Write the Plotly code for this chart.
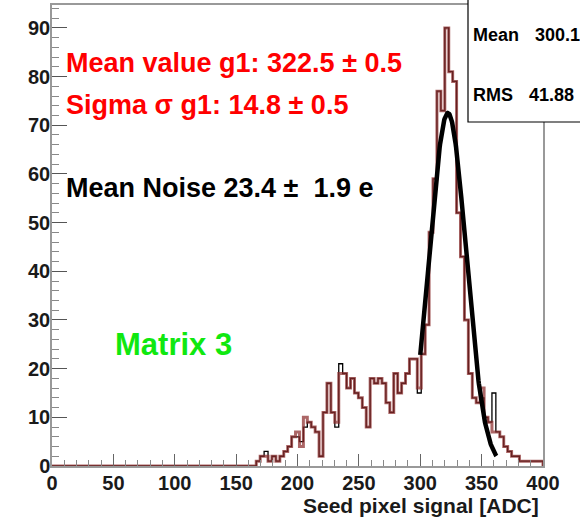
import plotly.graph_objects as go
import math

# ---------------- data ----------------
bin_width = 3.2            # ADC per bin (125 bins on 0-400)
n_bins = 125
first_bin = 52             # index of first listed bin (166.4 ADC)

counts_red = [1, 2, 2, 1, 2, 1, 2, 3, 4, 6,
              7, 4, 10, 9, 8, 7, 2, 11, 17, 11,
              9, 19, 19, 16, 18, 15, 14, 12, 8, 18,
              17, 18, 17, 13, 11, 19, 15, 17, 19, 22,
              22, 16, 23, 29, 48, 59, 77, 73, 90, 81,
              79, 52, 43, 30, 19, 14, 13, 16, 10, 9,
              7, 7, 6, 4, 3, 2, 2, 1, 1, 1, 1, 1, 1]
counts_black = [1, 2, 3, 1, 2, 1, 2, 3, 4, 6,
                6, 5, 8, 9, 8, 7, 2, 11, 17, 11,
                8, 21, 19, 16, 18, 15, 14, 12, 8, 18,
                17, 18, 17, 13, 11, 19, 15, 17, 19, 22,
                22, 15, 23, 29, 48, 59, 77, 73, 90, 81,
                79, 52, 43, 30, 19, 14, 13, 14, 10, 9,
                15, 7, 6, 4, 3, 2, 2, 1, 1, 1, 1, 1, 1]

fit_amp = 72.5
fit_mean = 322.5
fit_sigma = 14.8
fit_range = (300, 362)

x_ticks = [0, 50, 100, 150, 200, 250, 300, 350, 400]
y_ticks = [0, 10, 20, 30, 40, 50, 60, 70, 80, 90]

stat_names = ["Mean", "RMS"]
stat_values = ["300.1", "41.88"]

# ---------------- build ----------------
def full_counts(c):
    arr = [0] * n_bins
    for k, v in enumerate(c):
        arr[first_bin + k] = v
    return arr

edges = [round(i * bin_width, 4) for i in range(n_bins + 1)]

def step_xy(c):
    arr = full_counts(c)
    xs = edges[:-1] + [edges[-1], edges[-1]]
    ys = arr + [arr[-1], 0]
    return xs, ys

fig = go.Figure()
xb, yb = step_xy(counts_black)
fig.add_trace(go.Scatter(x=xb, y=yb, mode="lines", line=dict(shape="hv", color="black", width=1.3),
                         hoverinfo="skip", showlegend=False, cliponaxis=False))
xr, yr = step_xy(counts_red)
fig.add_trace(go.Scatter(x=xr, y=yr, mode="lines", line=dict(shape="hv", color="rgba(140,45,45,0.72)", width=3),
                         hoverinfo="skip", showlegend=False, cliponaxis=False))

fx = [fit_range[0] + i * (fit_range[1] - fit_range[0]) / 200 for i in range(201)]
fy = [fit_amp * math.exp(-0.5 * ((v - fit_mean) / fit_sigma) ** 2) for v in fx]
fig.add_trace(go.Scatter(x=fx, y=fy, mode="lines", line=dict(color="black", width=4.5),
                         hoverinfo="skip", showlegend=False))

# pixel helpers (plot area 52..543 x, 5..466 y)
L, R, T, B = 52, 543, 5, 466
def px(x):
    return (x - L) / (R - L)
def py(y):
    return (B - y) / (B - T)

FONT = "Liberation Sans, Arial, sans-serif"

fig.update_layout(
    width=580, height=517,
    margin=dict(l=L, r=580 - R, t=T, b=517 - B, autoexpand=False),
    paper_bgcolor="white", plot_bgcolor="white",
    showlegend=False,
    xaxis=dict(range=[0, 400], tickvals=x_ticks, ticktext=[str(v) for v in x_ticks],
               automargin=False, ticklabelstandoff=-2,
               ticks="inside", ticklen=12, tickcolor="#666", tickwidth=1,
               minor=dict(ticks="inside", ticklen=6, dtick=10, tickcolor="#888"),
               showgrid=False, zeroline=False, showline=True, linecolor="#999", linewidth=1.5, mirror=True,
               tickfont=dict(family=FONT, size=20, color="#1a1a1a", weight="bold")),
    yaxis=dict(range=[0, 94.7], tickvals=y_ticks, ticktext=[str(v) for v in y_ticks],
               automargin=False, ticklabelstandoff=-4,
               ticks="inside", ticklen=15, tickcolor="#555", tickwidth=1.3,
               minor=dict(ticks="inside", ticklen=7, dtick=2, tickcolor="#888"),
               showgrid=False, zeroline=False, showline=True, linecolor="#999", linewidth=1.5, mirror=True,
               tickfont=dict(family=FONT, size=20, color="#1a1a1a", weight="bold")),
)

# stats box
fig.add_shape(type="rect", xref="paper", yref="paper",
              x0=px(468), x1=px(590), y0=py(122), y1=py(-3),
              line=dict(color="black", width=1.2), fillcolor="white", layer="above")
stat_y = [35, 95]
value_x = [533, 527]
for name, val, yy, vx in zip(stat_names, stat_values, stat_y, value_x):
    fig.add_annotation(xref="paper", yref="paper", x=px(471), y=py(yy), text=f"<b>{name}</b>",
                       showarrow=False, xanchor="left", yanchor="middle",
                       font=dict(family=FONT, size=18, color="black"))
    fig.add_annotation(xref="paper", yref="paper", x=px(vx), y=py(yy), text=f"<b>{val}</b>",
                       showarrow=False, xanchor="left", yanchor="middle",
                       font=dict(family=FONT, size=18, color="black"))

texts = [
    ("Mean value g1: 322.5 ± 0.5", 63, "#ff0000", 27),
    ("Sigma σ g1: 14.8 ± 0.5", 105, "#ff0000", 27),
    ("Mean Noise 23.4 ±  1.9 e", 188, "black", 27),
]
for t, yy, col, sz in texts:
    fig.add_annotation(xref="paper", yref="paper", x=px(64), y=py(yy), text=f"<b>{t}</b>",
                       showarrow=False, xanchor="left", yanchor="middle",
                       font=dict(family=FONT, size=sz, color=col))

fig.add_annotation(xref="paper", yref="paper", x=px(113), y=py(344), text="<b>Matrix 3</b>",
                   showarrow=False, xanchor="left", yanchor="middle",
                   font=dict(family=FONT, size=31, color="#10e810"))

fig.add_annotation(xref="paper", yref="paper", x=px(541), y=py(505), text="<b>Seed pixel signal [ADC]</b>",
                   showarrow=False, xanchor="right", yanchor="middle",
                   font=dict(family=FONT, size=21, color="#1a1a1a"))

fig.write_html("out.html", config={"displayModeBar": False},
               post_script="document.body.style.margin='0';document.body.style.overflow='hidden';")
